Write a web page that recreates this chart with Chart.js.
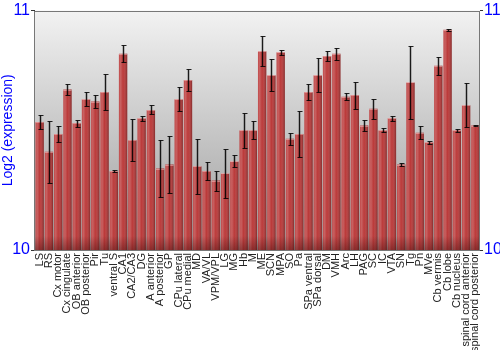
<!DOCTYPE html>
<html>
<head>
<meta charset="utf-8">
<script src="https://cdn.jsdelivr.net/npm/chart.js@4"></script>
<style>
  html, body { margin: 0; padding: 0; background: #fff; }
  #wrap { width: 500px; height: 350px; }
</style>
</head>
<body>
<div id="wrap"><canvas id="chart" width="500" height="350"></canvas></div>
<script>
// regions (x categories)
const regions = ['LS', 'RS', 'Cx motor', 'Cx cingulate', 'OB anterior', 'OB posterior', 'Pir', 'Tu',
  'ventral S', 'CA1', 'CA2/CA3', 'DG', 'A anterior', 'A posterior', 'GP', 'CPu lateral', 'CPu medial',
  'MD', 'VA/VL', 'VPM/VPL', 'LG', 'MG', 'Hb', 'M', 'ME', 'SCN', 'MPA', 'SO', 'Pa', 'SPa ventral',
  'SPa dorsal', 'DM', 'VMH', 'Arc', 'LH', 'PAG', 'SC', 'IC', 'VTA', 'SN', 'Tg', 'Pn', 'MVe',
  'Cb vermis', 'Cb lobe', 'Cb nucleus', 'spinal cord anterior', 'spinal cord posterior'];

// mean log2 expression per region
const expression = [10.535, 10.41, 10.485, 10.67, 10.53, 10.63, 10.62, 10.66,
  10.33, 10.82, 10.46, 10.55, 10.585, 10.34, 10.357, 10.63, 10.71,
  10.35, 10.33, 10.29, 10.32, 10.37, 10.50, 10.50, 10.83, 10.73, 10.826, 10.465, 10.485, 10.66,
  10.73, 10.81, 10.82, 10.64, 10.647, 10.52, 10.59, 10.50, 10.55, 10.357, 10.70, 10.49, 10.45,
  10.77, 10.92, 10.50, 10.605, 10.52];

// half-width of error bars
const errors = [0.03, 0.13, 0.033, 0.023, 0.015, 0.029, 0.027, 0.075,
  0.003, 0.035, 0.087, 0.011, 0.019, 0.12, 0.118, 0.05, 0.044,
  0.114, 0.037, 0.042, 0.102, 0.025, 0.072, 0.037, 0.062, 0.066, 0.01, 0.025, 0.097, 0.033,
  0.07, 0.021, 0.025, 0.015, 0.056, 0.023, 0.041, 0.008, 0.011, 0.006, 0.152, 0.027, 0.006,
  0.037, 0.004, 0.006, 0.091, 0.004];

const yTicks = [10, 11];

const panel = {
  id: 'panel',
  beforeDatasetsDraw(chart) {
    const { ctx, chartArea: a } = chart;
    const g = ctx.createLinearGradient(0, a.top, 0, a.bottom);
    g.addColorStop(0, '#f2f2f2');
    g.addColorStop(1, '#9c9c9c');
    ctx.save();
    ctx.fillStyle = g;
    ctx.fillRect(a.left, a.top, a.right - a.left, a.bottom - a.top);
    ctx.restore();
  },
  afterDatasetsDraw(chart) {
    const { ctx, chartArea: a } = chart;
    const meta = chart.getDatasetMeta(0);
    const y = chart.scales.y;
    ctx.save();
    ctx.beginPath();
    ctx.rect(a.left, a.top - 2, a.right - a.left, a.bottom - a.top + 2);
    ctx.clip();
    // shading across each bar
    meta.data.forEach(bar => {
      const x0 = bar.x - bar.width / 2;
      const h = a.bottom - bar.y;
      const g = ctx.createLinearGradient(x0, 0, x0 + bar.width, 0);
      g.addColorStop(0, 'rgba(255,255,255,0.08)');
      g.addColorStop(0.2, 'rgba(255,255,255,0.2)');
      g.addColorStop(0.5, 'rgba(255,255,255,0)');
      g.addColorStop(1, 'rgba(0,0,0,0.3)');
      ctx.fillStyle = g;
      ctx.fillRect(x0, bar.y, bar.width, h);
      ctx.fillStyle = 'rgba(255,210,210,0.45)';
      ctx.fillRect(x0, Math.round(bar.y), bar.width, 1);
    });
    // dark fade at the foot of the bars
    const f = ctx.createLinearGradient(0, a.bottom - 14, 0, a.bottom);
    f.addColorStop(0, 'rgba(40,0,0,0)');
    f.addColorStop(1, 'rgba(40,0,0,0.35)');
    ctx.fillStyle = f;
    ctx.fillRect(a.left, a.bottom - 14, a.right - a.left, 14);
    // error bars
    meta.data.forEach((bar, i) => {
      const yHi = Math.round(y.getPixelForValue(expression[i] + errors[i])) + 0.5;
      const yLo = Math.round(y.getPixelForValue(expression[i] - errors[i])) + 0.5;
      const cx = Math.round(bar.x) + 0.5;
      ctx.strokeStyle = 'rgba(0,0,0,0.2)';
      ctx.lineWidth = 3;
      ctx.beginPath();
      ctx.moveTo(cx, yHi); ctx.lineTo(cx, yLo);
      ctx.stroke();
      ctx.strokeStyle = 'rgba(0,0,0,0.85)';
      ctx.lineWidth = 1;
      ctx.beginPath();
      ctx.moveTo(cx, yHi); ctx.lineTo(cx, yLo);
      ctx.moveTo(cx - 2, yHi); ctx.lineTo(cx + 3, yHi);
      ctx.moveTo(cx - 2, yLo); ctx.lineTo(cx + 3, yLo);
      ctx.stroke();
    });
    ctx.restore();
    // frame
    ctx.save();
    ctx.strokeStyle = '#777';
    ctx.lineWidth = 1;
    ctx.strokeRect(Math.round(a.left) - 0.5, Math.round(a.top) + 0.5, Math.round(a.right - a.left), Math.round(a.bottom - a.top));
    ctx.restore();
  }
};

const ctx = document.getElementById('chart').getContext('2d');
const chart = new Chart(ctx, {
  type: 'bar',
  data: {
    labels: regions,
    datasets: [{
      data: expression,
      backgroundColor: '#bb3a3a',
      borderWidth: 0,
      barPercentage: 0.9,
      categoryPercentage: 1.0,
      yAxisID: 'y'
    }]
  },
  options: {
    responsive: false,
    animation: false,
    layout: { padding: { top: 9, left: 0, right: 0, bottom: 0 } },
    plugins: { legend: { display: false }, tooltip: { enabled: false } },
    scales: {
      x: {
        grid: { display: false, drawTicks: false },
        border: { display: false },
        ticks: {
          autoSkip: false, minRotation: 90, maxRotation: 90, padding: 3,
          color: '#222', font: { family: 'Liberation Sans', size: 11 }
        },
        afterFit(s) { s.height = 100; }
      },
      y: {
        position: 'left', min: 10, max: 11,
        afterBuildTicks(s) { s.ticks = yTicks.map(v => ({ value: v })); },
        grid: { drawOnChartArea: false, tickLength: 4, color: '#333' },
        border: { display: false },
        ticks: { color: '#0000ff', padding: 1, font: { family: 'Liberation Sans', size: 16 } },
        title: { display: true, text: 'Log2 (expression)', color: '#0000ff', padding: 0,
          font: { family: 'Liberation Sans', size: 14 } },
        afterFit(s) { s.width = 35; }
      },
      y2: {
        position: 'right', min: 10, max: 11,
        afterBuildTicks(s) { s.ticks = yTicks.map(v => ({ value: v })); },
        grid: { drawOnChartArea: false, tickLength: 3, color: '#333' },
        border: { display: false },
        ticks: { color: '#0000ff', padding: 1, font: { family: 'Liberation Sans', size: 16 } },
        afterFit(s) { s.width = 20; }
      }
    }
  },
  plugins: [panel]
});
</script>
</body>
</html>
